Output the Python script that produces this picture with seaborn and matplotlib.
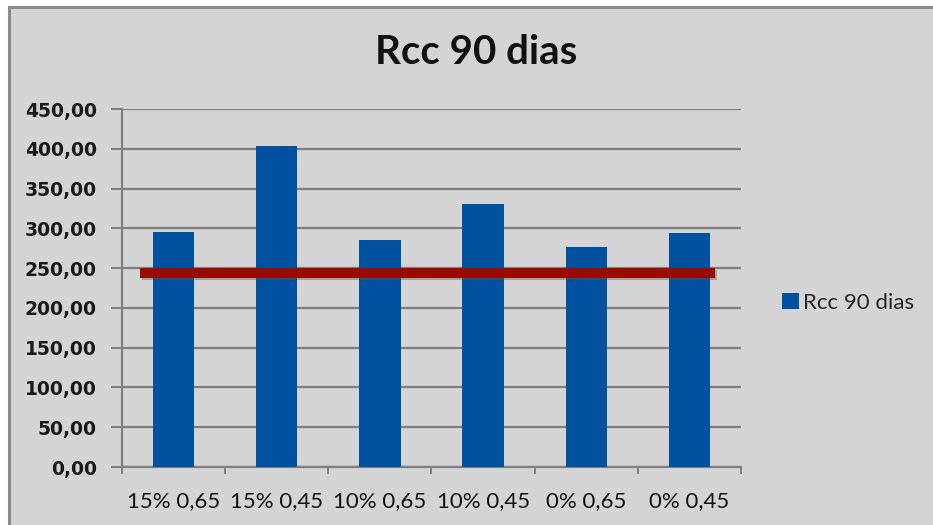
import matplotlib
matplotlib.use("Agg")
import matplotlib.pyplot as plt
import matplotlib.patheffects as pe
from matplotlib.patches import Rectangle, Patch
import seaborn as sns
import pandas as pd

# Data
categories = ["15% 0,65", "15% 0,45", "10% 0,65", "10% 0,45", "0% 0,65", "0% 0,45"]
rcc_90 = [296, 403, 285, 331, 276, 294]
series_name = "Rcc 90 dias"
reference_level = 244
y_ticks = [0, 50, 100, 150, 200, 250, 300, 350, 400, 450]
y_tick_labels = ["0,00", "50,00", "100,00", "150,00", "200,00", "250,00",
                 "300,00", "350,00", "400,00", "450,00"]

df = pd.DataFrame({"categoria": categories, "valor": rcc_90})

sns.set_theme(style="white")
plt.rcParams["font.family"] = ["Lato", "DejaVu Sans"]

W, H = 933, 525
fig = plt.figure(figsize=(W / 100, H / 100), dpi=100, facecolor="white")

# Chart area panel with a grey edge on the top and left
panel = Rectangle((9 / W, -0.1), 1.2, 0.1 + (H - 7) / H, transform=fig.transFigure,
                  facecolor="#d4d4d4", edgecolor="#8a8a8a", linewidth=2.2,
                  zorder=-5)
fig.patches.append(panel)

ax = fig.add_axes([122 / W, 1 - 467 / H, (741 - 122) / W, (467 - 109) / H])
ax.set_facecolor("none")

bar_color = "#00519f"
sns.barplot(data=df, x="categoria", y="valor", color=bar_color, width=0.4,
            saturation=1, ax=ax, zorder=3, edgecolor="none")

# Reference level line
ax.hlines(reference_level, -0.325, 5.25, color="#990b00", linewidth=7.2,
          zorder=4, capstyle="butt",
          path_effects=[pe.SimpleLineShadow(offset=(1.5, -1.5), shadow_color="#555555", alpha=0.4),
                        pe.Normal()])

ax.set_xlim(-0.5, 5.5)
ax.set_ylim(0, 450)

# Horizontal gridlines
ax.set_yticks(y_ticks)
ax.set_yticklabels(y_tick_labels)
for lbl in ax.get_yticklabels():
    lbl.set_fontfamily("DejaVu Sans")
    lbl.set_fontsize(13.5)
    lbl.set_fontweight("semibold")
    lbl.set_color("#1a1a1a")
ax.yaxis.grid(True, color="#7f7f7f", linewidth=1.6, zorder=0)
ax.set_axisbelow(True)

# Category ticks at bin boundaries, labels centered on bars
ax.set_xticks([i - 0.5 for i in range(len(categories) + 1)])
ax.set_xticklabels([])
ax.set_xticks(range(len(categories)), minor=True)
ax.set_xticklabels(categories, minor=True, fontsize=16, color="#111111")
ax.tick_params(axis="x", which="major", length=5, width=1.4, color="#7f7f7f",
               direction="out", bottom=True)
ax.tick_params(axis="x", which="minor", length=0, pad=17)
ax.tick_params(axis="y", length=8, width=1.4, color="#7f7f7f", direction="out",
               left=True, pad=10)

ax.set_xlabel("")
ax.set_ylabel("")
for side in ["top", "right"]:
    ax.spines[side].set_visible(False)
for side in ["left", "bottom"]:
    ax.spines[side].set_color("#7f7f7f")
    ax.spines[side].set_linewidth(1.6)

fig.legend([Patch(facecolor=bar_color, edgecolor="none")], [series_name],
           loc="center left", bbox_to_anchor=(773 / W, 1 - 303 / H),
           frameon=False, fontsize=16, handlelength=0.75, handleheight=0.75,
           handletextpad=0.2, borderaxespad=0)

fig.text(476 / W, 1 - 53 / H, "Rcc 90 dias", ha="center", va="center",
         fontsize=29, fontweight="bold", color="#111111")

fig.savefig("out.png", dpi=100, facecolor="white")
